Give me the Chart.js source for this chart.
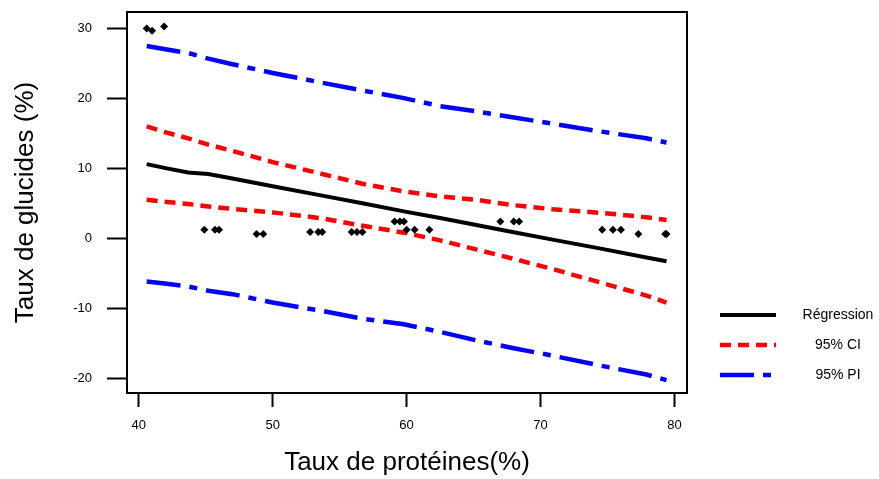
<!DOCTYPE html>
<html>
<head>
<meta charset="utf-8">
<script src="https://cdn.jsdelivr.net/npm/chart.js@4/dist/chart.umd.min.js"></script>
<style>
  html, body { margin: 0; padding: 0; background: #fff; }
  canvas { display: block; }
</style>
</head>
<body>
<canvas id="plot" width="879" height="479"></canvas>
<script>
'use strict';

// observed points (protein %, carbohydrate %)
const proteines = [40.6, 41.0, 41.9, 44.9, 45.7, 46.0, 48.8, 49.3, 52.8, 53.4, 53.7,
    55.9, 56.3, 56.7, 59.1, 59.5, 59.8, 60.0, 60.6, 61.7, 67.0, 68.0, 68.4,
    74.6, 75.4, 76.0, 77.3, 79.3, 79.4];
const glucides = [30.0, 29.7, 30.3, 1.2, 1.2, 1.2, 0.6, 0.6, 0.9, 0.9, 0.9,
    0.9, 0.9, 0.9, 2.4, 2.4, 2.4, 1.2, 1.2, 1.2, 2.4, 2.4, 2.4,
    1.2, 1.2, 1.2, 0.6, 0.6, 0.6];

// fitted curves
const fitX = [40.6, 42.1, 43.7, 45.2, 47, 50, 53.7, 56.7, 59.8, 62.5, 65.2, 67.9, 70.9, 74.4, 77.9, 79.4];
const regression = [10.6, 10.0, 9.4, 9.2, 8.55, 7.45, 6.1, 5.0, 3.85, 2.9, 1.9, 0.9, -0.2, -1.45, -2.75, -3.3];
const ciUpper = [16.0, 15.1, 14.3, 13.4, 12.5, 10.9, 9.2, 7.8, 6.7, 6.0, 5.5, 4.75, 4.15, 3.65, 3.0, 2.6];
const ciLower = [5.5, 5.2, 4.9, 4.55, 4.2, 3.7, 2.85, 1.8, 0.8, -0.3, -1.6, -2.9, -4.4, -6.3, -8.2, -9.2];
const piUpper = [27.5, 27.0, 26.5, 25.7, 24.9, 23.65, 22.25, 21.15, 20.05, 18.9, 18.15, 17.3, 16.4, 15.3, 14.3, 13.7];
const piLower = [-6.2, -6.5, -6.9, -7.5, -8.0, -9.2, -10.4, -11.5, -12.3, -13.4, -14.6, -15.7, -16.8, -18.2, -19.5, -20.3];

const xTicks = [40, 50, 60, 70, 80];
const yTicks = [-20, -10, 0, 10, 20, 30];
const legendLabels = ['Régression', '95% CI', '95% PI'];

const FONT = '"Liberation Sans", Arial, Helvetica, sans-serif';

function toPoints(xs, ys) {
    return xs.map((x, i) => ({ x: x, y: ys[i] }));
}

const regStyle = { borderColor: '#000000', borderWidth: 4, borderDash: [] };
const ciStyle = { borderColor: '#ff0000', borderWidth: 4.5, borderDash: [11, 7] };
const piStyle = { borderColor: '#0000ff', borderWidth: 4.5, borderDash: [34, 9, 8, 9] };

function lineSet(label, ys, style) {
    return Object.assign({
        label: label,
        data: toPoints(fitX, ys),
        showLine: true,
        pointRadius: 0,
        fill: false,
        tension: 0
    }, style);
}

// box around plot area + legend at the right
const framePlugin = {
    id: 'frame',
    afterDraw(chart) {
        const ctx = chart.ctx;
        const a = chart.chartArea;
        ctx.save();
        ctx.strokeStyle = '#000';
        ctx.lineWidth = 2;
        ctx.strokeRect(a.left, a.top, a.right - a.left, a.bottom - a.top);

        const styles = [regStyle, ciStyle, piStyle];
        ctx.font = '14px ' + FONT;
        ctx.fillStyle = '#000';
        ctx.textAlign = 'center';
        ctx.textBaseline = 'middle';
        legendLabels.forEach((lab, i) => {
            const y = 315 + i * 30;
            const s = styles[i];
            ctx.beginPath();
            ctx.strokeStyle = s.borderColor;
            ctx.lineWidth = s.borderWidth;
            ctx.setLineDash(s.borderDash);
            ctx.moveTo(720, y);
            ctx.lineTo(776, y);
            ctx.stroke();
            ctx.setLineDash([]);
            ctx.fillText(lab, 838, y);
        });
        ctx.restore();
    }
};

new Chart(document.getElementById('plot'), {
    type: 'scatter',
    data: {
        datasets: [
            {
                label: 'Observations',
                data: toPoints(proteines, glucides),
                pointStyle: 'rectRot',
                pointRadius: 4,
                pointBorderWidth: 0,
                backgroundColor: '#000',
                borderColor: '#000'
            },
            lineSet('Régression', regression, regStyle),
            lineSet('95% CI', ciUpper, ciStyle),
            lineSet('95% CI', ciLower, ciStyle),
            lineSet('95% PI', piUpper, piStyle),
            lineSet('95% PI', piLower, piStyle)
        ]
    },
    options: {
        responsive: false,
        devicePixelRatio: 1,
        animation: false,
        layout: { padding: { top: 12, right: 192, left: 0, bottom: 0 } },
        plugins: {
            legend: { display: false },
            tooltip: { enabled: false }
        },
        scales: {
            x: {
                type: 'linear',
                min: 39.13,
                max: 80.93,
                afterFit(scale) {
                    scale.height = 86;
                    scale.paddingLeft = 0;
                    scale.paddingRight = 0;
                },
                afterBuildTicks(scale) { scale.ticks = xTicks.map(v => ({ value: v })); },
                ticks: {
                    includeBounds: false,
                    color: '#000',
                    padding: 11,
                    maxRotation: 0,
                    font: { family: FONT, size: 13 }
                },
                grid: {
                    drawOnChartArea: false,
                    drawTicks: true,
                    tickLength: 14,
                    tickWidth: 2,
                    tickColor: '#000'
                },
                border: { display: false },
                title: {
                    display: true,
                    text: 'Taux de protéines(%)',
                    color: '#000',
                    font: { family: FONT, size: 26 },
                    padding: { top: 0, bottom: 1 }
                }
            },
            y: {
                type: 'linear',
                min: -22.14,
                max: 32.37,
                afterFit(scale) {
                    scale.width = 127;
                    scale.paddingTop = 0;
                    scale.paddingBottom = 0;
                },
                afterBuildTicks(scale) { scale.ticks = yTicks.map(v => ({ value: v })); },
                ticks: {
                    includeBounds: false,
                    color: '#000',
                    padding: 15,
                    font: { family: FONT, size: 13 }
                },
                grid: {
                    drawOnChartArea: false,
                    drawTicks: true,
                    tickLength: 20,
                    tickWidth: 2,
                    tickColor: '#000'
                },
                border: { display: false },
                title: {
                    display: true,
                    text: 'Taux de glucides (%)',
                    color: '#000',
                    font: { family: FONT, size: 26 },
                    padding: { top: 10, bottom: 0 }
                }
            }
        }
    },
    plugins: [framePlugin]
});
</script>
</body>
</html>
